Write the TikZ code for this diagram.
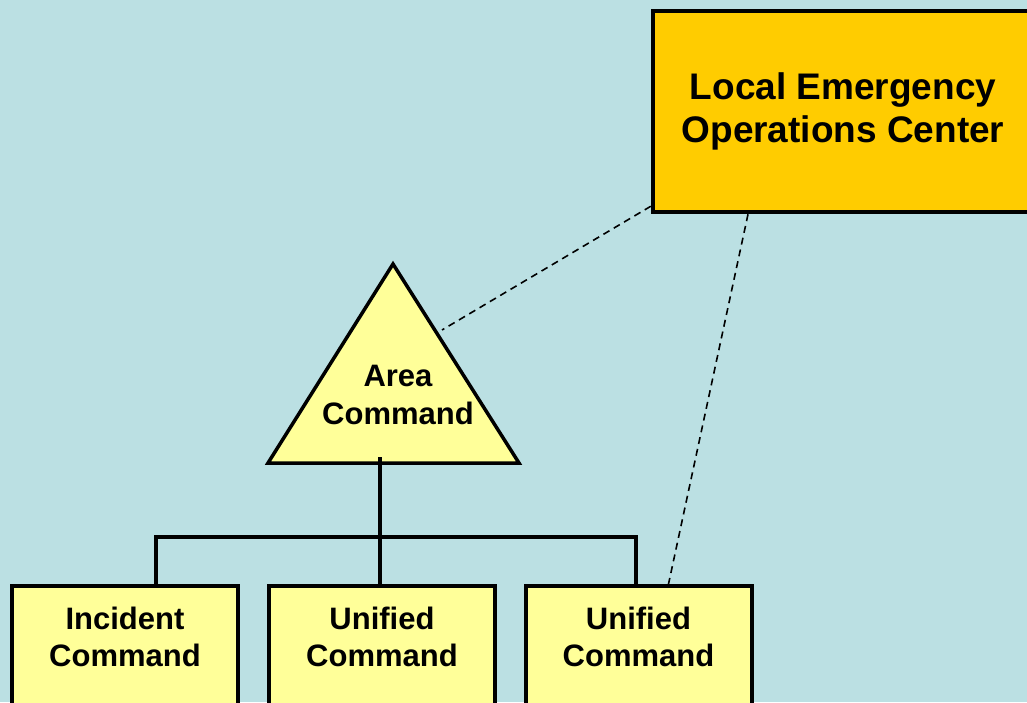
\documentclass[tikz,border=0pt]{standalone}
\usepackage{fontspec}
\setmainfont{Liberation Sans}
\usetikzlibrary{calc}
\definecolor{bgblue}{RGB}{187,224,227}
\definecolor{eocgold}{RGB}{255,204,0}
\definecolor{paleyellow}{RGB}{255,255,153}
\tikzset{
  cmdbox/.style={draw,fill=paleyellow,line width=4pt,minimum width=226pt,minimum height=140pt,anchor=north},
  cmdtext/.style={align=center,inner sep=0pt,font=\bfseries\fontsize{31}{37.5}\selectfont},
  tree/.style={line width=4pt},
  link/.style={dash pattern=on 7pt off 5pt,line width=1.6pt}
}
\begin{document}
\begin{tikzpicture}[x=1pt,y=-1pt]
	\fill[bgblue] (0,0) rectangle (1027,702);
	\useasboundingbox (0,0) rectangle (1027,702);
	\clip (0,0) rectangle (1027,702);
	% local EOC
	\node[draw,fill=eocgold,line width=4.5pt,minimum width=380pt,minimum height=201pt,align=center,inner sep=0pt,font=\bfseries\fontsize{37}{43}\selectfont] (eoc) at (843,111.5) {Local Emergency\\Operations Center};
	% area command
	\coordinate (apex) at (393,264);
	\coordinate (bl) at (268,463);
	\coordinate (br) at (519,463);
	\draw[fill=paleyellow,line width=3.5pt,line join=miter] (apex) -- (br) -- (bl) -- cycle;
	\node[cmdtext] (ac) at (398,395) {Area\\Command};
	\coordinate (acside) at (442,330);
	\coordinate (acfoot) at (380,457);
	% commands
	\node[cmdbox] (ic) at (125,584) {};
	\node[cmdbox] (uc1) at (382,584) {};
	\node[cmdbox] (uc2) at (638.5,584) {};
	\node[cmdtext] (ictext) at ([yshift=-53]ic.north) {Incident\\Command};
	\node[cmdtext] (uc1text) at ([yshift=-53]uc1.north) {Unified\\Command};
	\node[cmdtext] (uc2text) at ([yshift=-53]uc2.north) {Unified\\Command};
	\coordinate (fork) at (380,537);
	\draw[tree] (acfoot) -- (acfoot |- uc1.north);
	\draw[tree] ([xshift=31]ic.north) |- (fork) -| ([xshift=-2.5]uc2.north);
	% coordination links
	\draw[link] ([yshift=8]eoc.south west) -- (acside);
	\draw[link] ([xshift=-95]eoc.south) -- ([xshift=30]uc2.north);
\end{tikzpicture}
\end{document}
